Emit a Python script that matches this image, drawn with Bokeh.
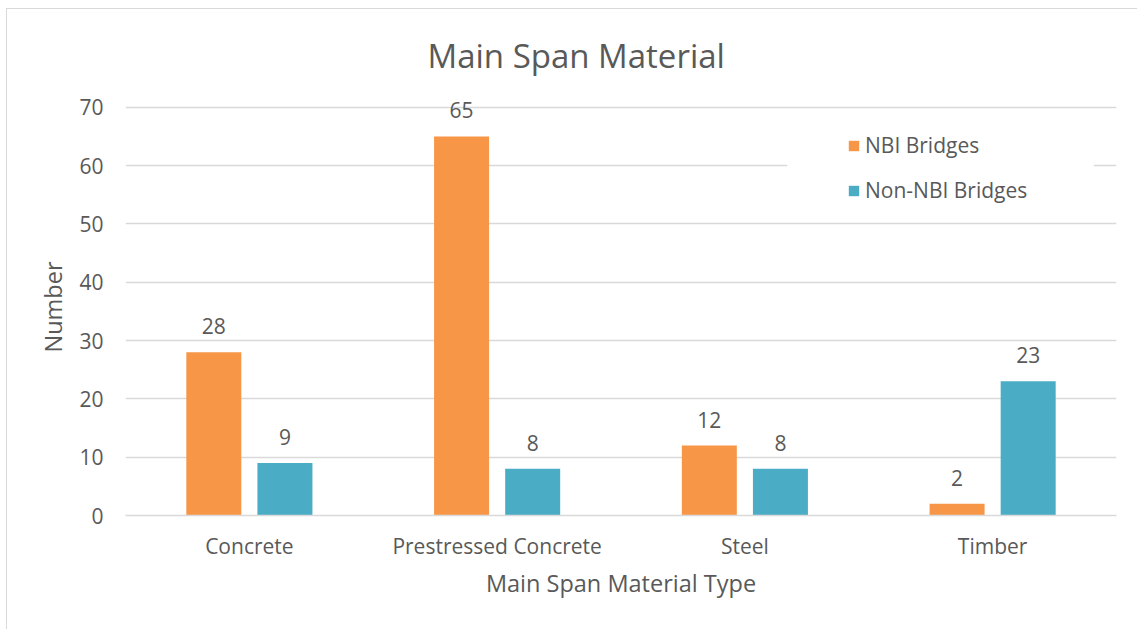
from bokeh.plotting import figure
from bokeh.models import ColumnDataSource, Legend, LegendItem, BoxAnnotation, LabelSet
from bokeh.core.properties import value
from bokeh.transform import dodge
from bokeh.embed import file_html
from bokeh.resources import INLINE

categories = ["Concrete", "Prestressed Concrete", "Steel", "Timber"]
nbi = [28, 65, 12, 2]
non_nbi = [9, 8, 8, 23]
series_names = ["NBI Bridges", "Non-NBI Bridges"]
y_ticks = [0, 10, 20, 30, 40, 50, 60, 70]

FONT = "Open Sans"
TXT = "#595959"
ORANGE = "#F79646"
TEAL = "#4BACC6"
GRID = "#d9d9d9"

src = ColumnDataSource(dict(cat=categories, nbi=nbi, non=non_nbi,
                            nbi_t=[str(v) for v in nbi], non_t=[str(v) for v in non_nbi]))

p = figure(x_range=categories, y_range=(0, 71.5), width=1135, height=625,
           output_backend="svg", toolbar_location=None,
           min_border_left=118, min_border_right=26, min_border_top=89, min_border_bottom=119)

p.title.text = "Main Span Material"
p.title.align = "left"
p.title.offset = 302
p.title.text_font = FONT
p.title.text_font_size = "33px"
p.title.text_font_style = "normal"
p.title.text_color = TXT
p.title.standoff = 42

off = 0.1435
w = 0.222
r1 = p.vbar(x=dodge("cat", -off, range=p.x_range), top="nbi", width=w, source=src,
            fill_color=ORANGE, line_color=None)
r2 = p.vbar(x=dodge("cat", off, range=p.x_range), top="non", width=w, source=src,
            fill_color=TEAL, line_color=None)

for col, tcol, d in (("nbi", "nbi_t", -off), ("non", "non_t", off)):
    p.add_layout(LabelSet(x=dodge("cat", d, range=p.x_range), y=col, text=tcol, source=src,
                          text_align="center", text_baseline="bottom", y_offset=18,
                          text_font_size=value("21px"), text_color=value(TXT),
                          text_font=value(FONT)))

p.add_layout(BoxAnnotation(left=2.671, right=3.908, bottom=52.3, top=66.9,
                           fill_color="white", fill_alpha=1.0, line_color=None))

legend = Legend(items=[LegendItem(label=series_names[0], renderers=[r1]),
                       LegendItem(label=series_names[1], renderers=[r2])],
                location=(722, 311), orientation="vertical",
                glyph_width=13, glyph_height=13, label_height=20, spacing=17,
                padding=10, margin=0, label_standoff=5,
                label_text_font=FONT, label_text_font_size="21px", label_text_color=TXT,
                border_line_color=None, background_fill_alpha=0)
p.add_layout(legend)

p.xgrid.grid_line_color = None
p.ygrid.grid_line_color = GRID
p.ygrid.grid_line_width = 1.3

p.yaxis.ticker = y_ticks
p.yaxis.axis_line_color = None
p.yaxis.major_tick_line_color = None
p.yaxis.minor_tick_line_color = None
p.yaxis.major_label_standoff = 16
p.yaxis.axis_label = "Number"
p.yaxis.axis_label_standoff = 7

p.xaxis.axis_line_color = GRID
p.xaxis.axis_line_width = 1.3
p.xaxis.major_tick_line_color = None
p.xaxis.minor_tick_line_color = None
p.xaxis.major_label_standoff = 10
p.xaxis.axis_label = "Main Span Material Type"
p.xaxis.axis_label_standoff = 4

for ax in (p.xaxis[0], p.yaxis[0]):
    ax.major_label_text_font = FONT
    ax.major_label_text_font_size = "21px"
    ax.major_label_text_color = TXT
    ax.axis_label_text_font = FONT
    ax.axis_label_text_font_size = "23.5px"
    ax.axis_label_text_font_style = "normal"
    ax.axis_label_text_color = TXT

p.outline_line_color = None
p.styles = {"border": "1px solid #d9d9d9", "margin-left": "6px", "margin-top": "8px"}

open("out.html", "w").write(file_html(p, INLINE))
